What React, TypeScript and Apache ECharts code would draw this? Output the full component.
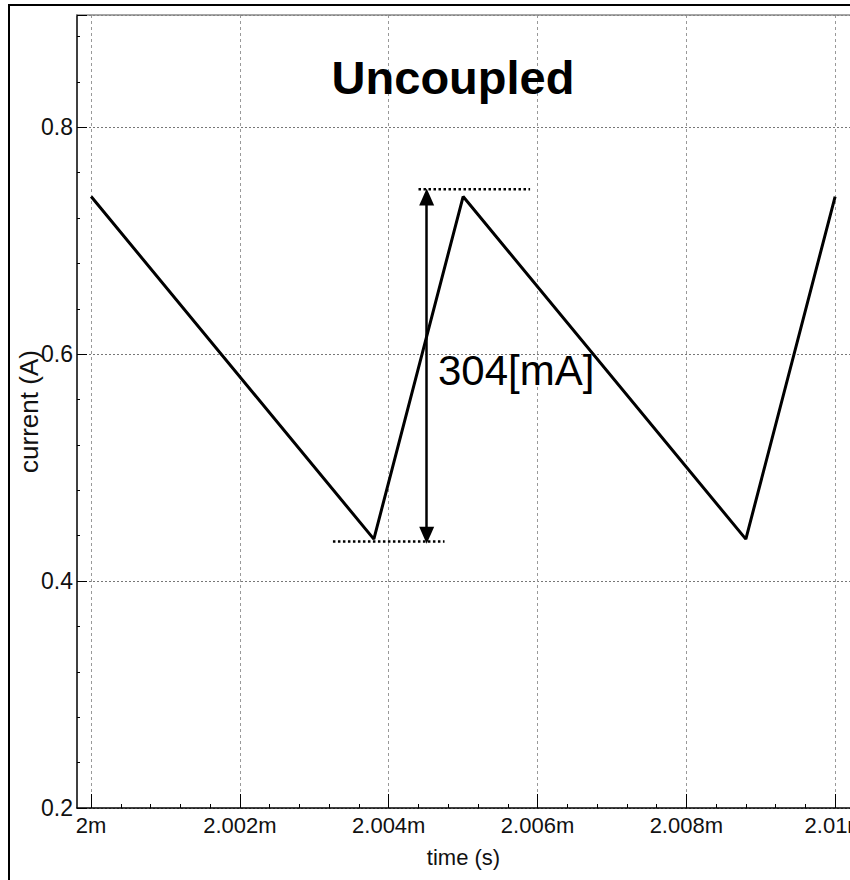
import React, { useEffect, useRef } from "react";
import * as echarts from "echarts";

// ---- data (time in ms, current in A) ----
const timeMs = [2.0, 2.0038, 2.005, 2.0088, 2.01];
const currentA = [0.739, 0.437, 0.739, 0.437, 0.739];

const xMajorTicks = [2.0, 2.002, 2.004, 2.006, 2.008, 2.01];
const xMinorTicks = [
  2.0004, 2.0008, 2.0012, 2.0016,
  2.0024, 2.0028, 2.0032, 2.0036,
  2.0044, 2.0048, 2.0052, 2.0056,
  2.0064, 2.0068, 2.0072, 2.0076,
  2.0084, 2.0088, 2.0092, 2.0096,
];

// annotation reference lines and arrow
const topRefX = [2.0044, 2.0059];
const topRefY = 0.7455;
const bottomRefX = [2.00325, 2.00475];
const bottomRefY = 0.435;
const arrowX = 2.00451;
const arrowY = [0.7385, 0.4405];

const titleText = "Uncoupled";
const annotationText = "304[mA]";
const xName = "time (s)";
const yName = "current (A)";

const X_MIN = 1.99981;
const X_MAX = 2.0102;

const NARROW = "'Liberation Sans Narrow', 'Arial Narrow', 'Liberation Sans', Arial, sans-serif";
const SANS = "'Liberation Sans', Arial, sans-serif";

export default function App() {
  const ref = useRef<HTMLDivElement>(null);

  useEffect(() => {
    if (!ref.current) return;
    const chart = echarts.init(ref.current, null, { renderer: "svg" });

    const fmtX = (v: number) => parseFloat(v.toFixed(4)) + "m";

    const option: any = {
      animation: false,
      backgroundColor: "#fff",
      grid: {
        left: 67,
        top: 9,
        right: 0,
        bottom: 72,
        containLabel: false,
        outerBoundsMode: "none",
      },
      xAxis: [
        {
          type: "value",
          min: X_MIN,
          max: X_MAX,
          position: "bottom",
          axisLine: { show: true, lineStyle: { color: "#000", width: 1.5 } },
          axisTick: {
            show: true,
            inside: true,
            length: 14,
            customValues: xMajorTicks,
            lineStyle: { color: "#000", width: 1 },
          },
          axisLabel: {
            customValues: xMajorTicks,
            formatter: fmtX,
            fontFamily: NARROW,
            fontSize: 22,
            color: "#111",
            margin: 6,
            hideOverlap: false,
          },
          splitLine: { show: true, lineStyle: { color: "#999", width: 1, type: [3, 3] } },
          name: xName,
          nameLocation: "middle",
          nameGap: 38,
          nameTextStyle: { fontFamily: NARROW, fontSize: 22, color: "#111" },
        },
        {
          type: "value",
          min: X_MIN,
          max: X_MAX,
          position: "bottom",
          axisLine: { show: false },
          axisTick: {
            show: true,
            inside: true,
            length: 4,
            customValues: xMinorTicks,
            lineStyle: { color: "#000", width: 1 },
          },
          axisLabel: { show: false },
          splitLine: { show: false },
        },
        {
          type: "value",
          min: X_MIN,
          max: X_MAX,
          position: "top",
          axisLine: { show: true, lineStyle: { color: "#888", width: 1.5 } },
          axisTick: { show: false },
          axisLabel: { show: false },
          splitLine: { show: false },
        },
      ],
      yAxis: {
        type: "value",
        min: 0.2,
        max: 0.899,
        interval: 0.2,
        axisLine: { show: true, lineStyle: { color: "#000", width: 1.5 } },
        axisTick: { show: true, inside: true, length: 10, lineStyle: { color: "#000" } },
        minorTick: { show: true, splitNumber: 5, length: 3, lineStyle: { color: "#000" } },
        axisLabel: {
          showMaxLabel: false,
          formatter: (v: number) => parseFloat(v.toFixed(2)).toString(),
          fontFamily: NARROW,
          fontSize: 23,
          color: "#111",
          margin: 4,
        },
        splitLine: { show: true, lineStyle: { color: "#777", width: 1, type: [2, 2] } },
        name: yName,
        nameLocation: "middle",
        nameGap: 35,
        nameMoveOverlap: false,
        nameTextStyle: { fontFamily: SANS, fontSize: 26, color: "#111" },
      },
      series: [
        {
          type: "line",
          xAxisIndex: 0,
          data: timeMs.map((t, i) => [t, currentA[i]]),
          symbol: "none",
          lineStyle: { color: "#000", width: 3 },
          z: 5,
        },
        {
          type: "line",
          xAxisIndex: 0,
          data: topRefX.map((t) => [t, topRefY]),
          symbol: "none",
          lineStyle: { color: "#000", width: 2.5, type: "dotted" },
          z: 4,
        },
        {
          type: "line",
          xAxisIndex: 0,
          data: bottomRefX.map((t) => [t, bottomRefY]),
          symbol: "none",
          lineStyle: { color: "#000", width: 2.5, type: "dotted" },
          z: 4,
          markLine: {
            silent: true,
            symbol: ["triangle", "triangle"],
            symbolSize: [15, 17],
            label: { show: false },
            lineStyle: { color: "#000", width: 2.5, type: "solid" },
            data: [
              [
                { coord: [arrowX, arrowY[0]] },
                { coord: [arrowX, arrowY[1]] },
              ],
            ],
          },
        },
      ],
      graphic: [
        {
          type: "text",
          x: 443,
          y: 71,
          style: {
            text: titleText,
            font: `bold 47px ${SANS}`,
            fill: "#000",
            align: "center",
            verticalAlign: "middle",
          },
          z: 10,
        },
        {
          type: "text",
          x: 428,
          y: 364,
          style: {
            text: annotationText,
            font: `42px ${SANS}`,
            fill: "#000",
            align: "left",
            verticalAlign: "middle",
          },
          z: 10,
        },
      ],
    };

    chart.setOption(option);
    return () => chart.dispose();
  }, []);

  return (
    <div
      style={{
        position: "absolute",
        left: 8,
        top: 4,
        borderTop: "2px solid #000",
        borderLeft: "2px solid #000",
        width: 840,
        height: 874,
        background: "#fff",
      }}
    >
      <div ref={ref} style={{ width: 840, height: 874 }} />
    </div>
  );
}
